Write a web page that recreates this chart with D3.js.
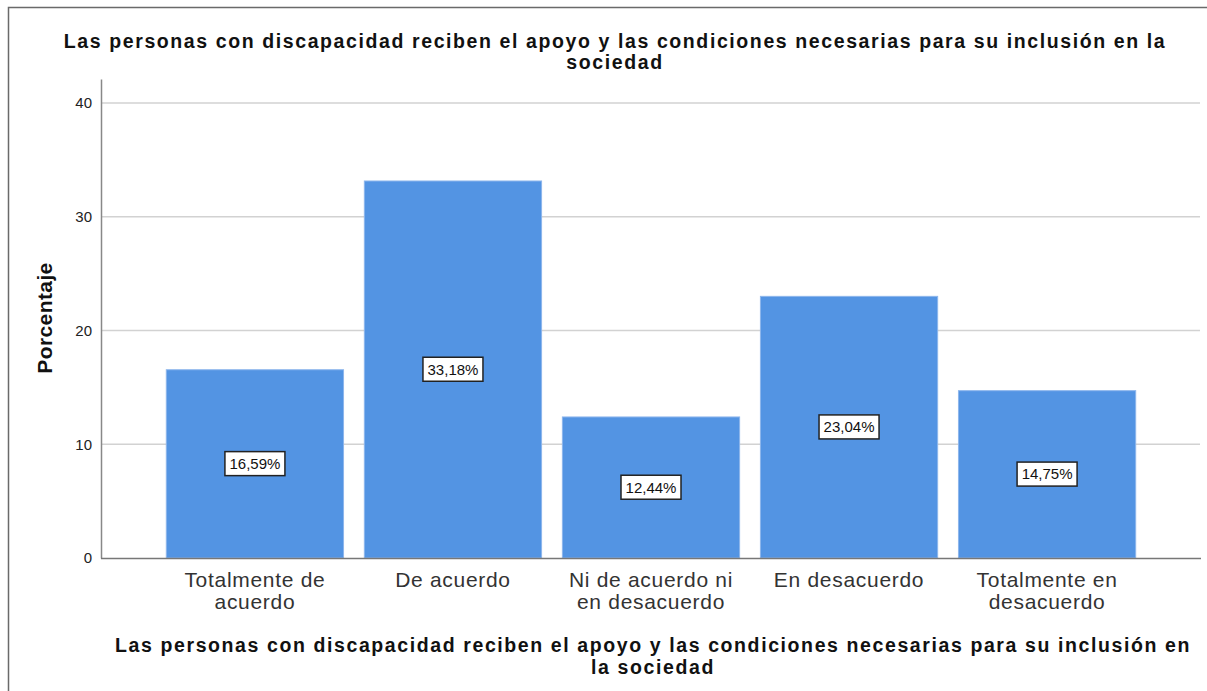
<!DOCTYPE html>
<html>
<head>
<meta charset="utf-8">
<script src="https://cdn.jsdelivr.net/npm/d3@7"></script>
<style>
  body { margin: 0; background: #fff; }
  svg { display: block; font-family: "Liberation Sans", Arial, sans-serif; }
</style>
</head>
<body>
<div id="graph-container"></div>
<script>
// data
var categories = [
    ['Totalmente de', 'acuerdo'],
    ['De acuerdo'],
    ['Ni de acuerdo ni', 'en desacuerdo'],
    ['En desacuerdo'],
    ['Totalmente en', 'desacuerdo']
];
var percentages = [16.59, 33.18, 12.44, 23.04, 14.75];
var y_ticks = [0, 10, 20, 30, 40];
var title_lines = ['Las personas con discapacidad reciben el apoyo y las condiciones necesarias para su inclusión en la', 'sociedad'];
var x_title_lines = ['Las personas con discapacidad reciben el apoyo y las condiciones necesarias para su inclusión en', 'la sociedad'];
var y_title = 'Porcentaje';

var width = 1207, height = 691;
var plot = {left: 101, right: 1200, top: 79, bottom: 558};
var bar_color = '#5394e3';

var svg = d3.select('#graph-container').append('svg')
            .attr('width', width).attr('height', height);

// outer frame (only top and left show)
svg.append('path')
   .attr('d', `M8.5,${height} V7.5 H${width}`)
   .attr('fill', 'none').attr('stroke', '#6a6a6a').attr('stroke-width', 1.5);

var ids = d3.range(categories.length);
var x = d3.scaleBand().domain(ids).range([146, 1156]).padding(0.1);
var y = d3.scaleLinear().domain([0, 42.1]).range([plot.bottom, plot.top]);

// grid
svg.append('g')
   .selectAll('line').data(y_ticks.filter(t => t > 0)).enter()
   .append('line')
   .attr('x1', plot.left).attr('x2', plot.right)
   .attr('y1', d => y(d)).attr('y2', d => y(d))
   .attr('stroke', '#d2d2d2').attr('stroke-width', 1.5);

// y axis
var y_axis = svg.append('g')
   .attr('transform', `translate(${plot.left},0)`)
   .call(d3.axisLeft(y).tickValues(y_ticks).tickSize(0).tickPadding(9));
y_axis.select('.domain').attr('stroke', '#888').attr('stroke-width', 1.5);
y_axis.selectAll('text').attr('font-size', 15).attr('fill', '#222')
      .attr('font-family', '"Liberation Sans", Arial, sans-serif');

// bars
svg.append('g').selectAll('rect').data(percentages).enter()
   .append('rect')
   .attr('x', (d, i) => x(i) + 0.5)
   .attr('width', x.bandwidth() - 1)
   .attr('y', d => y(d) + 0.5)
   .attr('height', d => y(0) - y(d) - 0.5)
   .attr('fill', bar_color)
   .attr('stroke', '#8db6ec').attr('stroke-width', 1);

// x axis line
svg.append('line')
   .attr('x1', plot.left).attr('x2', plot.right + 1)
   .attr('y1', plot.bottom + 0.5).attr('y2', plot.bottom + 0.5)
   .attr('stroke', '#777').attr('stroke-width', 1.5);

// value labels
var labels = svg.append('g').selectAll('g').data(percentages).enter()
   .append('g')
   .attr('transform', (d, i) => `translate(${x(i) + x.bandwidth() / 2},${y(d / 2)})`);
labels.append('rect')
   .attr('x', -30).attr('y', -12).attr('width', 60).attr('height', 24)
   .attr('fill', '#fff').attr('stroke', '#222').attr('stroke-width', 1.5);
labels.append('text')
   .attr('text-anchor', 'middle').attr('dy', '0.36em')
   .attr('font-size', 15).attr('fill', '#111')
   .text(d => d.toFixed(2).replace('.', ',') + '%');

// category labels
var cat = svg.append('g').selectAll('text').data(categories).enter()
   .append('text')
   .attr('text-anchor', 'middle')
   .attr('font-size', 21).attr('letter-spacing', 0.7).attr('fill', '#333')
   .attr('x', (d, i) => x(i) + x.bandwidth() / 2)
   .attr('y', 587);
cat.selectAll('tspan').data(d => d).enter()
   .append('tspan')
   .attr('x', function() { return this.parentNode.getAttribute('x'); })
   .attr('dy', (d, i) => i ? 22 : 0)
   .text(d => d);

// titles
svg.append('text')
   .attr('text-anchor', 'middle').attr('font-weight', 'bold').attr('font-size', 19.5)
   .attr('letter-spacing', 1.6).attr('fill', '#111')
   .selectAll('tspan').data(title_lines).enter()
   .append('tspan').attr('x', 615).attr('y', (d, i) => 48 + i * 21).text(d => d);

svg.append('text')
   .attr('text-anchor', 'middle').attr('font-weight', 'bold').attr('font-size', 19.5)
   .attr('letter-spacing', 1.6).attr('fill', '#111')
   .selectAll('tspan').data(x_title_lines).enter()
   .append('tspan').attr('x', 653).attr('y', (d, i) => 652 + i * 22).text(d => d);

svg.append('text')
   .attr('transform', 'translate(52,318) rotate(-90)')
   .attr('text-anchor', 'middle').attr('font-weight', 'bold').attr('font-size', 21)
   .attr('letter-spacing', 0.4).attr('fill', '#111')
   .text(y_title);
</script>
</body>
</html>
